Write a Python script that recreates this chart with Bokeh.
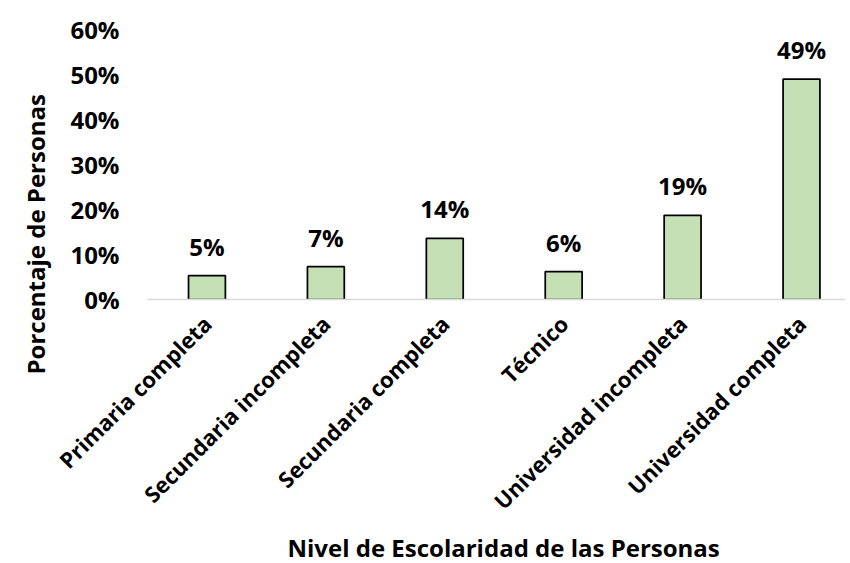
import numpy as np
from bokeh.plotting import figure
from bokeh.models import ColumnDataSource, Range1d, FixedTicker, Title, NumeralTickFormatter
from bokeh.core.properties import value
from bokeh.embed import file_html
from bokeh.resources import INLINE

categories = ["Primaria completa", "Secundaria incompleta", "Secundaria completa",
              "Técnico", "Universidad incompleta", "Universidad completa"]
values = [0.053, 0.073, 0.136, 0.062, 0.187, 0.490]
labels = ["5%", "7%", "14%", "6%", "19%", "49%"]
y_ticks = [0, 0.1, 0.2, 0.3, 0.4, 0.5, 0.6]

FONT = "Open Sans"
FS = "24px"
FSX = "22px"
xs = [i + 0.5 for i in range(len(categories))]
src = ColumnDataSource(dict(x=xs, top=values, lab=labels))

p = figure(width=845, height=563, output_backend="svg", toolbar_location=None,
           x_range=Range1d(0, 5.87), y_range=Range1d(0, 0.6),
           min_border_left=0, min_border_right=0, min_border_top=29, min_border_bottom=0)
p.outline_line_color = None
p.grid.grid_line_color = None

p.vbar(x="x", top="top", width=0.31, source=src, fill_color="#C5E0B4",
       line_color="black", line_width=1.75)
p.text(x="x", y="top", text="lab", source=src, text_align="center", text_baseline="bottom",
       y_offset=-13, text_font=value(FONT), text_font_style="bold", text_font_size=FS,
       text_color="black")

p.yaxis.ticker = FixedTicker(ticks=y_ticks)
p.yaxis.formatter = NumeralTickFormatter(format="0%")
p.yaxis.axis_line_color = None
p.yaxis.major_tick_line_color = None
p.yaxis.minor_tick_line_color = None
p.yaxis.major_tick_out = 0
p.yaxis.major_tick_in = 0
p.yaxis.major_label_standoff = 28
p.yaxis.major_label_text_font = FONT
p.yaxis.major_label_text_font_style = "bold"
p.yaxis.major_label_text_font_size = FS
p.yaxis.major_label_text_color = "black"

p.xaxis.ticker = FixedTicker(ticks=xs)
p.xaxis.major_label_overrides = {x: c for x, c in zip(xs, categories)}
p.xaxis.major_label_orientation = np.pi / 4
p.xaxis.axis_line_color = "#D9D9D9"
p.xaxis.axis_line_width = 1.5
p.xaxis.major_tick_line_color = None
p.xaxis.minor_tick_line_color = None
p.xaxis.major_tick_out = 0
p.xaxis.major_tick_in = 0
p.xaxis.major_label_standoff = 20
p.xaxis.major_label_text_font = FONT
p.xaxis.major_label_text_font_style = "bold"
p.xaxis.major_label_text_font_size = FSX
p.xaxis.major_label_text_color = "black"

p.add_layout(Title(text="Nivel de Escolaridad de las Personas", align="left", offset=140,
                   standoff=0, text_font=FONT, text_font_style="bold",
                   text_font_size=FS, text_color="black"), "below")
p.add_layout(Title(text="Porcentaje de Personas", align="left", offset=-75,
                   standoff=32, text_font=FONT, text_font_style="bold",
                   text_font_size=FS, text_color="black"), "left")

open("out.html", "w").write(file_html(p, INLINE))
